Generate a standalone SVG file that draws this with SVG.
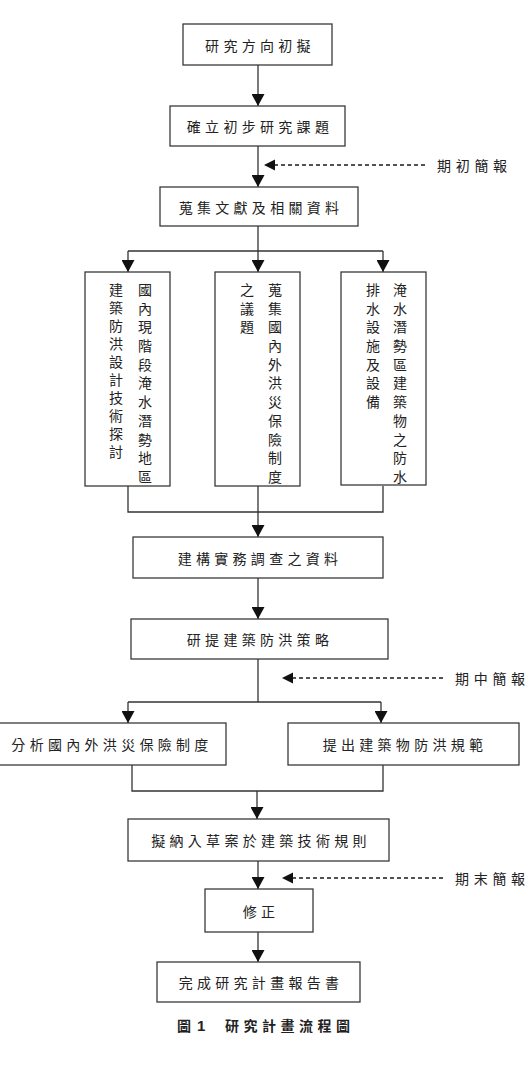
<svg xmlns="http://www.w3.org/2000/svg" width="529" height="1085" viewBox="0 0 529 1085">
  <style>
    .box { fill: #ffffff; stroke: #3a3a3a; stroke-width: 1.3; }
    .wire { fill: none; stroke: #333333; stroke-width: 1.3; }
    .dash { fill: none; stroke: #1a1a1a; stroke-width: 1.3; stroke-dasharray: 4 3; }
    .t { font-family: "Noto Sans CJK TC", "Noto Sans CJK SC", sans-serif; font-size: 14px; fill: #222222; letter-spacing: 4.3px; text-anchor: middle; dominant-baseline: central; }
    .v { font-family: "Noto Sans CJK TC", "Noto Sans CJK SC", sans-serif; font-size: 14px; fill: #222222; text-anchor: middle; dominant-baseline: central; }
    .lbl { font-family: "Noto Sans CJK TC", "Noto Sans CJK SC", sans-serif; font-size: 14px; fill: #222222; letter-spacing: 4.7px; dominant-baseline: central; }
    .cap { font-family: "Noto Sans CJK TC", "Noto Sans CJK SC", sans-serif; font-size: 14px; font-weight: bold; fill: #222222; dominant-baseline: central; }
  </style>
  <defs>
    <marker id="head" markerUnits="userSpaceOnUse" markerWidth="13" markerHeight="13" refX="12" refY="6.5" orient="auto">
      <path d="M0,0 L12,6.5 L0,13 z" fill="#111111"/>
    </marker>
    <marker id="headSmall" markerUnits="userSpaceOnUse" markerWidth="12" markerHeight="12" refX="11" refY="5.5" orient="auto">
      <path d="M0,0 L11,5.5 L0,11 z" fill="#111111"/>
    </marker>
  </defs>

  <rect width="529" height="1085" fill="#ffffff"/>

  <!-- connectors -->
  <g id="connectors">
    <line class="wire" x1="258" y1="65" x2="258" y2="106" marker-end="url(#head)"/>
    <line class="wire" x1="258" y1="146" x2="258" y2="187" marker-end="url(#head)"/>
    <line class="wire" x1="258" y1="226" x2="258" y2="251"/>
    <line class="wire" x1="128" y1="251" x2="383" y2="251"/>
    <line class="wire" x1="128" y1="251" x2="128" y2="272" marker-end="url(#head)"/>
    <line class="wire" x1="258" y1="251" x2="258" y2="272" marker-end="url(#head)"/>
    <line class="wire" x1="383" y1="251" x2="383" y2="272" marker-end="url(#head)"/>
    <polyline class="wire" points="128,486 128,512 383,512 383,486"/>
    <line class="wire" x1="258" y1="486" x2="258" y2="537" marker-end="url(#head)"/>
    <line class="wire" x1="258" y1="578" x2="258" y2="619" marker-end="url(#head)"/>
    <line class="wire" x1="258" y1="659" x2="258" y2="702"/>
    <line class="wire" x1="128" y1="702" x2="381" y2="702"/>
    <line class="wire" x1="128" y1="702" x2="128" y2="723" marker-end="url(#head)"/>
    <line class="wire" x1="381" y1="702" x2="381" y2="723" marker-end="url(#head)"/>
    <polyline class="wire" points="132,765 132,791 383,791 383,765"/>
    <line class="wire" x1="257" y1="791" x2="257" y2="819" marker-end="url(#head)"/>
    <line class="wire" x1="258" y1="861" x2="258" y2="889" marker-end="url(#head)"/>
    <line class="wire" x1="258" y1="932" x2="258" y2="962" marker-end="url(#head)"/>
    <!-- briefing checkpoints -->
    <line class="dash" x1="425" y1="165" x2="264" y2="165" marker-end="url(#headSmall)"/>
    <line class="dash" x1="443" y1="678" x2="282" y2="678" marker-end="url(#headSmall)"/>
    <line class="dash" x1="443" y1="878" x2="282" y2="878" marker-end="url(#headSmall)"/>
  </g>

  <g id="n1">
    <rect class="box" x="183" y="24" width="149" height="41"/>
    <text class="t" x="260" y="44.5">研究方向初擬</text>
  </g>
  <g id="n2">
    <rect class="box" x="170" y="106" width="175" height="40"/>
    <text class="t" x="260" y="126">確立初步研究課題</text>
  </g>
  <g id="lbl-start">
    <text class="lbl" x="437" y="165">期初簡報</text>
  </g>
  <g id="n3">
    <rect class="box" x="160" y="187" width="198" height="39"/>
    <text class="t" x="261" y="206.5">蒐集文獻及相關資料</text>
  </g>

  <!-- narrow boxes: one glyph per x/y pair, read top to bottom, right column first -->
  <g id="n4">
    <rect class="box" x="85" y="272" width="85" height="214"/>
    <text class="v" x="145 145 145 145 145 145 145 145 145 145 145" y="289 308 326 345 364 382 401 420 439 457 476">國內現階段淹水潛勢地區</text>
    <text class="v" x="116 116 116 116 116 116 116 116 116 116" y="289 307 325 343 361 379 397 415 433 451">建築防洪設計技術探討</text>
  </g>
  <g id="n5">
    <rect class="box" x="215" y="272" width="85" height="214"/>
    <text class="v" x="275 275 275 275 275 275 275 275 275 275 275" y="289 308 326 345 364 382 401 420 439 457 476">蒐集國內外洪災保險制度</text>
    <text class="v" x="247 247 247" y="289 308 326">之議題</text>
  </g>
  <g id="n6">
    <rect class="box" x="341" y="272" width="85" height="213"/>
    <text class="v" x="400 400 400 400 400 400 400 400 400 400 400" y="289 308 326 345 364 382 401 420 439 457 476">淹水潛勢區建築物之防水</text>
    <text class="v" x="373 373 373 373 373 373 373" y="289 308 326 345 364 382 401">排水設施及設備</text>
  </g>

  <g id="n7">
    <rect class="box" x="133" y="537" width="250" height="41"/>
    <text class="t" x="260" y="557.5">建構實務調查之資料</text>
  </g>
  <g id="n8">
    <rect class="box" x="131" y="619" width="257" height="40"/>
    <text class="t" x="260" y="639">研提建築防洪策略</text>
  </g>
  <g id="lbl-mid">
    <text class="lbl" x="455" y="678">期中簡報</text>
  </g>
  <g id="n9">
    <rect class="box" x="-2" y="723" width="228" height="42"/>
    <text class="t" x="112" y="744">分析國內外洪災保險制度</text>
  </g>
  <g id="n10">
    <rect class="box" x="288" y="723" width="231" height="42"/>
    <text class="t" x="405" y="744">提出建築物防洪規範</text>
  </g>
  <g id="n11">
    <rect class="box" x="128" y="819" width="261" height="42"/>
    <text class="t" x="261" y="840">擬納入草案於建築技術規則</text>
  </g>
  <g id="lbl-end">
    <text class="lbl" x="455" y="878">期末簡報</text>
  </g>
  <g id="n12">
    <rect class="box" x="205" y="889" width="108" height="43"/>
    <text class="t" x="261" y="910.5">修正</text>
  </g>
  <g id="n13">
    <rect class="box" x="157" y="962" width="203" height="40"/>
    <text class="t" x="261" y="982">完成研究計畫報告書</text>
  </g>

  <g id="caption">
    <text class="cap" x="177" y="1025">圖</text>
    <text class="cap" x="197" y="1025" style="font-family: 'Liberation Sans', sans-serif; font-size: 15px;">1</text>
    <text class="cap" x="225" y="1025" style="letter-spacing: 4.5px;">研究計畫流程圖</text>
  </g>
</svg>
